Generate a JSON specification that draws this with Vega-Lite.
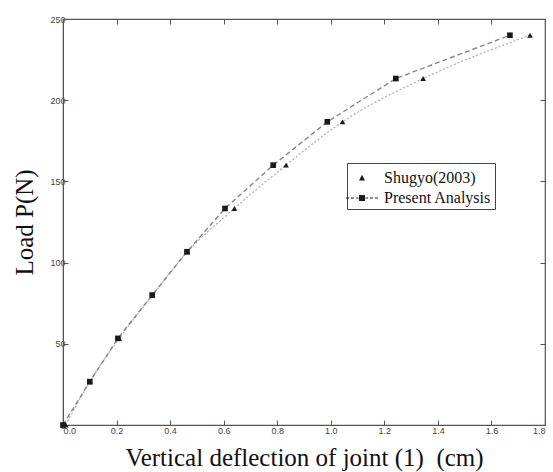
{
  "$schema": "https://vega.github.io/schema/vega-lite/v6.json",
  "width": 482,
  "height": 406,
  "autosize": "none",
  "padding": {"left": 63, "top": 19, "right": 8, "bottom": 47},
  "background": "white",
  "config": {
    "view": {"stroke": "#555", "strokeWidth": 1.2},
    "axis": {
      "labelFont": "Liberation Sans",
      "labelFontSize": 9,
      "labelColor": "#444",
      "titleFont": "Liberation Serif",
      "titleFontSize": 25,
      "titleFontWeight": "normal",
      "titleColor": "#111",
      "domainColor": "#555",
      "tickColor": "#555",
      "tickSize": -5,
      "gridColor": "#aaa",
      "gridDash": [2, 3],
      "gridWidth": 1
    }
  },
  "data": {
    "values": [
      {"series": "Present Analysis", "x": 0, "p": 0},
      {"series": "Present Analysis", "x": 0.1, "p": 26.67},
      {"series": "Present Analysis", "x": 0.205, "p": 53.33},
      {"series": "Present Analysis", "x": 0.333, "p": 80},
      {"series": "Present Analysis", "x": 0.463, "p": 106.67},
      {"series": "Present Analysis", "x": 0.605, "p": 133.33},
      {"series": "Present Analysis", "x": 0.785, "p": 160},
      {"series": "Present Analysis", "x": 0.987, "p": 186.67},
      {"series": "Present Analysis", "x": 1.243, "p": 213.33},
      {"series": "Present Analysis", "x": 1.669, "p": 240},
      {"series": "Shugyo(2003)", "x": 0.01, "p": 0},
      {"series": "Shugyo(2003)", "x": 0.1, "p": 26.67},
      {"series": "Shugyo(2003)", "x": 0.21, "p": 53.33},
      {"series": "Shugyo(2003)", "x": 0.335, "p": 80},
      {"series": "Shugyo(2003)", "x": 0.465, "p": 106.67},
      {"series": "Shugyo(2003)", "x": 0.64, "p": 133.33},
      {"series": "Shugyo(2003)", "x": 0.833, "p": 160},
      {"series": "Shugyo(2003)", "x": 1.044, "p": 186.67},
      {"series": "Shugyo(2003)", "x": 1.345, "p": 213.33},
      {"series": "Shugyo(2003)", "x": 1.744, "p": 240}
    ]
  },
  "resolve": {"scale": {"shape": "independent"}, "axis": {"x": "independent", "y": "independent"}},
  "layer": [
    {
      "transform": [{"filter": "datum.series == 'Shugyo(2003)'"}],
      "mark": {"type": "line", "color": "#b0b0b0", "strokeWidth": 1.3, "strokeDash": [2, 2], "interpolate": "monotone"},
      "encoding": {
        "x": {
          "field": "x", "type": "quantitative",
          "scale": {"domain": [0, 1.8], "nice": false},
          "axis": {"orient": "top", "values": [0, 0.2, 0.4, 0.6, 0.8, 1, 1.2, 1.4, 1.6, 1.8], "labels": false, "grid": false, "domain": false, "title": null}
        },
        "y": {
          "field": "p", "type": "quantitative",
          "scale": {"domain": [0, 250], "nice": false},
          "axis": {"orient": "right", "values": [0, 50, 100, 150, 200, 250], "labels": false, "grid": false, "domain": false, "title": null}
        }
      }
    },
    {
      "transform": [{"filter": "datum.series == 'Present Analysis'"}],
      "mark": {"type": "line", "color": "#888", "strokeWidth": 1.4, "strokeDash": [5, 3]},
      "encoding": {
        "x": {
          "field": "x", "type": "quantitative",
          "scale": {"domain": [0, 1.8], "nice": false},
          "axis": {"values": [0, 0.2, 0.4, 0.6, 0.8, 1, 1.2, 1.4, 1.6, 1.8], "title": "Vertical deflection of joint (1)\u00a0\u00a0(cm)", "labelPadding": 6, "titlePadding": 10}
        },
        "y": {
          "field": "p", "type": "quantitative",
          "scale": {"domain": [0, 250], "nice": false},
          "axis": {"values": [0, 50, 100, 150, 200, 250], "title": "Load P(N)", "labelPadding": 3, "titlePadding": 12}
        }
      }
    },
    {
      "mark": {"type": "point", "filled": true, "size": 32, "opacity": 1, "color": "#1a1a1a"},
      "encoding": {
        "x": {"field": "x", "type": "quantitative", "scale": {"domain": [0, 1.8], "nice": false}, "axis": null},
        "y": {"field": "p", "type": "quantitative", "scale": {"domain": [0, 250], "nice": false}, "axis": null},
        "shape": {
          "field": "series", "type": "nominal",
          "scale": {"domain": ["Shugyo(2003)", "Present Analysis"], "range": ["triangle-up", "square"]},
          "legend": null
        }
      }
    },
    {
      "mark": {"type": "point", "filled": true, "opacity": 0, "color": "#1a1a1a"},
      "encoding": {
        "x": {"field": "x", "type": "quantitative", "scale": {"domain": [0, 1.8], "nice": false}, "axis": null},
        "y": {"field": "p", "type": "quantitative", "scale": {"domain": [0, 250], "nice": false}, "axis": null},
        "shape": {
          "field": "series", "type": "nominal",
          "scale": {
            "domain": ["Shugyo(2003)", "Present Analysis"],
            "range": [
              "M0,-0.27L0.25,0.2L-0.25,0.2Z",
              "M-1.33,-0.045H-1.08V0.045H-1.33ZM-0.92,-0.045H-0.67V0.045H-0.92ZM-0.5,-0.045H-0.3V0.045H-0.5ZM-0.25,-0.25H0.25V0.25H-0.25ZM0.3,-0.045H0.5V0.045H0.3ZM0.67,-0.045H0.92V0.045H0.67ZM1.08,-0.045H1.33V0.045H1.08Z"
            ]
          },
          "legend": {
            "title": null,
            "orient": "none",
            "legendX": 284,
            "legendY": 144,
            "strokeColor": "#444",
            "fillColor": "white",
            "padding": 3,
            "labelFont": "Liberation Serif",
            "labelFontSize": 16,
            "labelColor": "#111",
            "symbolOpacity": 1,
            "symbolFillColor": "#333",
            "symbolStrokeColor": "#333",
            "symbolStrokeWidth": 0,
            "symbolSize": 576,
            "labelOffset": 10,
            "rowPadding": -2
          }
        }
      }
    }
  ]
}
